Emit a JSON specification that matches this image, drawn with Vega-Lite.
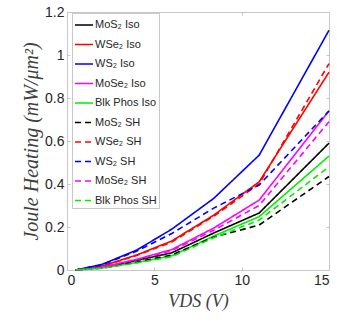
{
  "$schema": "https://vega.github.io/schema/vega-lite/v6.json",
  "width": 262,
  "height": 258,
  "autosize": {"type": "none"},
  "padding": {"left": 67, "top": 12, "right": 8, "bottom": 51},
  "background": "white",
  "config": {
    "view": {"stroke": "#c8c8c8", "strokeWidth": 1},
    "font": "Liberation Sans"
  },
  "data": {
    "values": [
      {"s": "MoS₂ Iso", "v": 0.5, "p": 0}, {"s": "MoS₂ Iso", "v": 2, "p": 0.011}, {"s": "MoS₂ Iso", "v": 4, "p": 0.045}, {"s": "MoS₂ Iso", "v": 6, "p": 0.08}, {"s": "MoS₂ Iso", "v": 8.4, "p": 0.172}, {"s": "MoS₂ Iso", "v": 11, "p": 0.265}, {"s": "MoS₂ Iso", "v": 15, "p": 0.59},
      {"s": "WSe₂ Iso", "v": 0.5, "p": 0}, {"s": "WSe₂ Iso", "v": 2, "p": 0.018}, {"s": "WSe₂ Iso", "v": 4, "p": 0.07}, {"s": "WSe₂ Iso", "v": 6, "p": 0.135}, {"s": "WSe₂ Iso", "v": 8.4, "p": 0.255}, {"s": "WSe₂ Iso", "v": 11, "p": 0.41}, {"s": "WSe₂ Iso", "v": 15, "p": 0.92},
      {"s": "WS₂ Iso", "v": 0.5, "p": 0}, {"s": "WS₂ Iso", "v": 2, "p": 0.026}, {"s": "WS₂ Iso", "v": 4, "p": 0.093}, {"s": "WS₂ Iso", "v": 6, "p": 0.19}, {"s": "WS₂ Iso", "v": 8.4, "p": 0.333}, {"s": "WS₂ Iso", "v": 11, "p": 0.534}, {"s": "WS₂ Iso", "v": 15, "p": 1.115},
      {"s": "MoSe₂ Iso", "v": 0.5, "p": 0}, {"s": "MoSe₂ Iso", "v": 2, "p": 0.013}, {"s": "MoSe₂ Iso", "v": 4, "p": 0.05}, {"s": "MoSe₂ Iso", "v": 6, "p": 0.095}, {"s": "MoSe₂ Iso", "v": 8.4, "p": 0.195}, {"s": "MoSe₂ Iso", "v": 11, "p": 0.325}, {"s": "MoSe₂ Iso", "v": 15, "p": 0.74},
      {"s": "Blk Phos Iso", "v": 0.5, "p": 0}, {"s": "Blk Phos Iso", "v": 2, "p": 0.009}, {"s": "Blk Phos Iso", "v": 4, "p": 0.035}, {"s": "Blk Phos Iso", "v": 6, "p": 0.066}, {"s": "Blk Phos Iso", "v": 8.4, "p": 0.158}, {"s": "Blk Phos Iso", "v": 11, "p": 0.248}, {"s": "Blk Phos Iso", "v": 15, "p": 0.53},
      {"s": "MoS₂ SH", "v": 0.5, "p": 0}, {"s": "MoS₂ SH", "v": 2, "p": 0.009}, {"s": "MoS₂ SH", "v": 4, "p": 0.037}, {"s": "MoS₂ SH", "v": 6, "p": 0.07}, {"s": "MoS₂ SH", "v": 8.4, "p": 0.153}, {"s": "MoS₂ SH", "v": 11, "p": 0.209}, {"s": "MoS₂ SH", "v": 15, "p": 0.435},
      {"s": "WSe₂ SH", "v": 0.5, "p": 0}, {"s": "WSe₂ SH", "v": 2, "p": 0.017}, {"s": "WSe₂ SH", "v": 4, "p": 0.068}, {"s": "WSe₂ SH", "v": 6, "p": 0.13}, {"s": "WSe₂ SH", "v": 8.4, "p": 0.25}, {"s": "WSe₂ SH", "v": 11, "p": 0.4}, {"s": "WSe₂ SH", "v": 15, "p": 0.96},
      {"s": "WS₂ SH", "v": 0.5, "p": 0}, {"s": "WS₂ SH", "v": 2, "p": 0.024}, {"s": "WS₂ SH", "v": 4, "p": 0.088}, {"s": "WS₂ SH", "v": 6, "p": 0.17}, {"s": "WS₂ SH", "v": 8.4, "p": 0.288}, {"s": "WS₂ SH", "v": 11, "p": 0.395}, {"s": "WS₂ SH", "v": 15, "p": 0.74},
      {"s": "MoSe₂ SH", "v": 0.5, "p": 0}, {"s": "MoSe₂ SH", "v": 2, "p": 0.012}, {"s": "MoSe₂ SH", "v": 4, "p": 0.048}, {"s": "MoSe₂ SH", "v": 6, "p": 0.09}, {"s": "MoSe₂ SH", "v": 8.4, "p": 0.185}, {"s": "MoSe₂ SH", "v": 11, "p": 0.3}, {"s": "MoSe₂ SH", "v": 15, "p": 0.69},
      {"s": "Blk Phos SH", "v": 0.5, "p": 0}, {"s": "Blk Phos SH", "v": 2, "p": 0.008}, {"s": "Blk Phos SH", "v": 4, "p": 0.033}, {"s": "Blk Phos SH", "v": 6, "p": 0.062}, {"s": "Blk Phos SH", "v": 8.4, "p": 0.15}, {"s": "Blk Phos SH", "v": 11, "p": 0.232}, {"s": "Blk Phos SH", "v": 15, "p": 0.48}
    ]
  },
  "resolve": {"axis": {"x": "independent", "y": "independent"}},
  "layer": [
    {
      "mark": {"type": "line", "strokeWidth": 1.6},
      "encoding": {
        "x": {
          "field": "v", "type": "quantitative",
          "scale": {"domain": [0, 15], "nice": false},
          "axis": {
            "values": [0, 5, 10, 15], "grid": false, "domainColor": "#c8c8c8",
            "tickColor": "#c8c8c8", "tickSize": -3, "labelPadding": 6,
            "labelFont": "Liberation Sans", "labelFontSize": 14, "labelColor": "#262626",
            "title": "VDS (V)", "titleFont": "Liberation Serif", "titleFontStyle": "italic",
            "titleFontWeight": "normal", "titleFontSize": 18, "titleColor": "#404040", "titlePadding": 5
          }
        },
        "y": {
          "field": "p", "type": "quantitative",
          "scale": {"domain": [0, 1.2], "nice": false},
          "axis": {
            "values": [0, 0.2, 0.4, 0.6, 0.8, 1, 1.2], "format": "~g", "grid": false,
            "domainColor": "#c8c8c8", "tickColor": "#c8c8c8", "tickSize": -3, "labelPadding": 6,
            "labelFont": "Liberation Sans", "labelFontSize": 14, "labelColor": "#262626",
            "title": "Joule Heating (mW/μm²)", "titleFont": "Liberation Serif", "titleFontStyle": "italic",
            "titleFontWeight": "normal", "titleFontSize": 20, "titleColor": "#404040", "titlePadding": 3
          }
        },
        "detail": {"field": "s"},
        "color": {
          "field": "s", "type": "nominal", "title": null,
          "scale": {
            "domain": ["MoS₂ Iso", "WSe₂ Iso", "WS₂ Iso", "MoSe₂ Iso", "Blk Phos Iso", "MoS₂ SH", "WSe₂ SH", "WS₂ SH", "MoSe₂ SH", "Blk Phos SH"],
            "range": ["#000000", "#ff0000", "#0000ff", "#ff00ff", "#00ee00", "#000000", "#ff0000", "#0000ff", "#ff00ff", "#00ee00"]
          },
          "legend": {
            "orient": "none", "legendX": 5, "legendY": 1,
            "symbolType": "stroke", "symbolSize": 324, "symbolStrokeWidth": 1.6,
            "labelFont": "Liberation Sans", "labelFontSize": 11, "labelColor": "#262626",
            "labelOffset": 1, "rowPadding": 4.5, "padding": 2,
            "fillColor": "white", "strokeColor": "#c8c8c8"
          }
        },
        "strokeDash": {
          "field": "s", "type": "nominal", "title": null,
          "scale": {
            "domain": ["MoS₂ Iso", "WSe₂ Iso", "WS₂ Iso", "MoSe₂ Iso", "Blk Phos Iso", "MoS₂ SH", "WSe₂ SH", "WS₂ SH", "MoSe₂ SH", "Blk Phos SH"],
            "range": [[1, 0], [1, 0], [1, 0], [1, 0], [1, 0], [6, 4], [6, 4], [6, 4], [6, 4], [6, 4]]
          }
        }
      }
    },
    {
      "mark": {"type": "point", "opacity": 0},
      "encoding": {
        "x": {
          "field": "v", "type": "quantitative",
          "axis": {"orient": "top", "values": [0, 5, 10, 15], "labels": false, "title": null, "grid": false, "domain": false, "tickColor": "#c8c8c8", "tickSize": -3}
        },
        "y": {
          "field": "p", "type": "quantitative",
          "axis": {"orient": "right", "values": [0, 0.2, 0.4, 0.6, 0.8, 1, 1.2], "labels": false, "title": null, "grid": false, "domain": false, "tickColor": "#c8c8c8", "tickSize": -3}
        }
      }
    }
  ]
}
